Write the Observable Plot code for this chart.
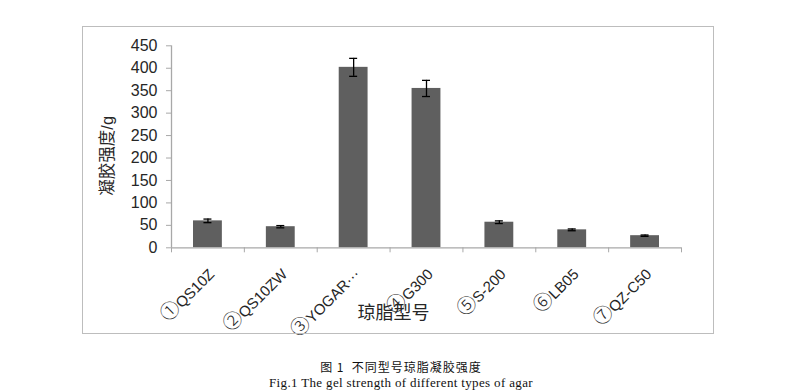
<!DOCTYPE html>
<html>
<head>
<meta charset="utf-8">
<script src="https://cdn.jsdelivr.net/npm/d3@7"></script>
<script src="https://cdn.jsdelivr.net/npm/@observablehq/plot@0.6"></script>
<style>
  html, body { margin: 0; padding: 0; background: #fff; }
  #wrap { position: relative; width: 802px; height: 392px; overflow: hidden; }
  #frame { position: absolute; left: 82px; top: 26px; width: 632px; height: 308px; box-sizing: border-box; border: 1.5px solid #bdbdbd; pointer-events: none; }
  #chart svg { display: block; }
  #caption { width: 802px; text-align: center; padding-top: 19px; line-height: 16px; font-family: "Liberation Serif", "Noto Sans CJK SC", serif; color: #111; }
  #caption .cn { font-size: 12px; letter-spacing: 1px; font-family: "Noto Sans CJK SC", serif; }
  #caption .en { font-size: 13px; letter-spacing: 0.35px; }
</style>
</head>
<body>
<div id="wrap">
  <div id="chart"></div>
  <div id="caption">
    <div class="cn">图 1&nbsp;&nbsp;不同型号琼脂凝胶强度</div>
    <div class="en">Fig.1 The gel strength of different types of agar</div>
  </div>
  <div id="frame"></div>
</div>
<script>
const categories = ["①QS10Z", "②QS10ZW", "③YOGAR···", "④G300", "⑤S-200", "⑥LB05", "⑦QZ-C50"];
const values = [60, 47, 402, 355, 57, 40, 27];
const errors = [4, 2.5, 20, 18, 3, 2, 1.5];
const yTicks = [0, 50, 100, 150, 200, 250, 300, 350, 400, 450];
const yLabel = "凝胶强度/g";
const xTitle = "琼脂型号";

const data = categories.map((c, i) => ({cat: c, i, v: values[i], e: errors[i]}));
const xBounds = d3.range(categories.length + 1);

const axisColor = "#a8a8a8";
const textColor = "#262626";
const fontFamily = "'Liberation Sans', Arial, 'Noto Sans CJK SC', sans-serif";

const chart = Plot.plot({
  width: 802,
  height: 340,
  marginLeft: 171,
  marginRight: 121,
  marginTop: 45.3,
  marginBottom: 92.7,
  style: {fontFamily, background: "transparent", color: textColor, overflow: "visible"},
  x: {type: "linear", domain: [0, categories.length], axis: null},
  y: {domain: [0, 450], axis: null},
  marks: [
    Plot.rectY(data, {x1: d => d.i, x2: d => d.i + 1, y1: 0, y2: d => d.v, insetLeft: 22, insetRight: 22, fill: "#5f5f5f"}),
    Plot.ruleX(data, {x: d => d.i + 0.5, y1: d => d.v - d.e, y2: d => d.v + d.e, stroke: "#000", strokeWidth: 1.3}),
    Plot.ruleY(data, {y: d => d.v - d.e, x1: d => d.i + 0.5, x2: d => d.i + 0.5, insetLeft: -4, insetRight: -4, stroke: "#000", strokeWidth: 1.3}),
    Plot.ruleY(data, {y: d => d.v + d.e, x1: d => d.i + 0.5, x2: d => d.i + 0.5, insetLeft: -4, insetRight: -4, stroke: "#000", strokeWidth: 1.3}),
    Plot.ruleY([0], {stroke: axisColor, strokeWidth: 1.3}),
    Plot.ruleX([0], {stroke: axisColor, strokeWidth: 1.3}),
    Plot.axisX({ticks: xBounds, tickSize: 5, tickFormat: () => "", stroke: axisColor, label: null}),
    Plot.axisY({ticks: yTicks, tickSize: 5, tickPadding: 9, fontSize: 16, stroke: axisColor, fill: textColor, label: null}),
    Plot.text(data, {x: d => d.i + 0.5, y: 0, text: d => d.cat, rotate: -45, textAnchor: "end", dx: 4, dy: 24, fontSize: 15, fill: textColor}),
    Plot.text([yLabel], {frameAnchor: "left", text: d => d, textAnchor: "middle", lineAnchor: "middle", dx: -64, dy: 9, rotate: -90, fontSize: 16.5, fill: textColor}),
    Plot.text([xTitle], {frameAnchor: "bottom", text: d => d, textAnchor: "middle", lineAnchor: "middle", dx: -33, dy: 65, fontSize: 18, fill: textColor})
  ]
});
document.getElementById("chart").appendChild(chart);

// enlarge the circled numerals so they read like the original's full-size circles
d3.select(chart).selectAll("text").each(function() {
  const t = this.textContent;
  if (categories.includes(t)) {
    const sel = d3.select(this);
    sel.text(null);
    sel.append("tspan").attr("font-family", "'Noto Sans CJK SC', 'DejaVu Sans', sans-serif").attr("font-size", "1.3em").attr("font-weight", 300).text(t[0]);
    sel.append("tspan").text(t.slice(1));
  }
});
</script>
</body>
</html>
